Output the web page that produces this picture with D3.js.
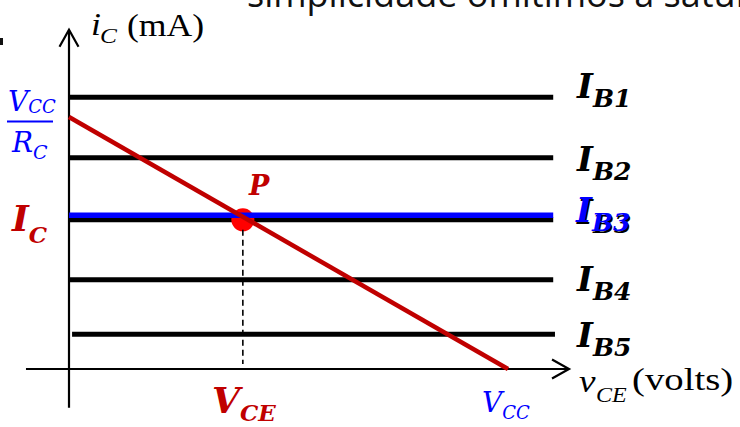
<!DOCTYPE html>
<html>
<head>
<meta charset="utf-8">
<script src="https://cdn.jsdelivr.net/npm/d3@7"></script>
<style>
  html, body { margin: 0; padding: 0; background: #fff; }
  svg { display: block; }
</style>
</head>
<body>
<script>
// ---------------- data ----------------
const ibNames   = ["B1", "B2", "B3", "B4", "B5"];          // base-current curves
const ibValues  = [5.39, 4.19, 2.96, 1.77, 0.69];          // collector current (mA) of each flat curve
const ibStart   = [0, 0, 0, 0, 0.07];                      // v_CE where each curve starts (V)
const ibEnd     = [11.03, 11.03, 11.03, 11.03, 11.07];     // v_CE where each curve ends (V)
const vcc       = 10;                                      // V_CC (V) – load line x-intercept
const iSat      = 5;                                       // V_CC / R_C (mA) – load line y-intercept
const loadLine  = [[0, iSat], [vcc, 0]];
const icValue   = 3.05;                                    // highlighted I_C level
const qPoint    = { vce: 3.96, ic: 2.96 };                 // operating point P
const xAxisExt  = [-0.98, 11.39];
const yAxisExt  = [-0.77, 6.73];

// ---------------- layout ----------------
const W = 740, H = 427;
const svg = d3.select("body").append("svg").attr("width", W).attr("height", H);

const x = d3.scaleLinear().domain([0, vcc]).range([69, 508]);
const y = d3.scaleLinear().domain([0, iSat]).range([369, 117]);

const serif = "'Liberation Serif', 'Times New Roman', serif";
const mathF = "'DejaVu Serif', 'Liberation Serif', serif";
const DARKRED = "#c00000", BLUE = "#0000ff";

// top (cropped) slide text and bullet remnant
svg.append("text").attr("x", 247).attr("y", 7)
  .attr("font-family", "Open Sans, sans-serif").attr("font-size", 36)
  .attr("fill", "#111").text("simplicidade omitimos a saturação");
svg.append("rect").attr("x", 0).attr("y", 38).attr("width", 3).attr("height", 7).attr("fill", "#111");

// axes
const axisG = svg.append("g").attr("stroke", "#000").attr("fill", "none").attr("stroke-width", 2.2);
axisG.append("line").attr("x1", x(xAxisExt[0])).attr("x2", x(xAxisExt[1]))
  .attr("y1", y(0)).attr("y2", y(0));
axisG.append("line").attr("x1", x(0)).attr("x2", x(0))
  .attr("y1", y(yAxisExt[0])).attr("y2", y(yAxisExt[1]));
const xt = x(xAxisExt[1]), yt = y(yAxisExt[1]);
axisG.append("path").attr("d", `M${xt - 17},${y(0) - 9.5}L${xt},${y(0)}L${xt - 17},${y(0) + 9.5}`);
axisG.append("path").attr("d", `M${x(0) - 9.5},${yt + 17}L${x(0)},${yt}L${x(0) + 9.5},${yt + 17}`);

// base-current curves
svg.append("g").selectAll("line").data(ibValues).join("line")
  .attr("x1", (d, i) => x(ibStart[i])).attr("x2", (d, i) => x(ibEnd[i]))
  .attr("y1", d => y(d)).attr("y2", d => y(d))
  .attr("stroke", "#000").attr("stroke-width", 5);

// operating point circle (under blue & load line)
svg.append("circle").attr("cx", x(qPoint.vce)).attr("cy", y(qPoint.ic)).attr("r", 11.5).attr("fill", "#ff0000");

// highlighted I_C line
svg.append("line").attr("x1", x(0)).attr("x2", x(ibEnd[2]))
  .attr("y1", y(icValue)).attr("y2", y(icValue))
  .attr("stroke", BLUE).attr("stroke-width", 5.5);

// dashed projection
svg.append("line").attr("x1", x(qPoint.vce)).attr("x2", x(qPoint.vce))
  .attr("y1", y(qPoint.ic) + 10).attr("y2", y(0) - 5)
  .attr("stroke", "#000").attr("stroke-width", 1.6).attr("stroke-dasharray", "6,4");

// load line
svg.append("path").datum(loadLine)
  .attr("d", d3.line().x(d => x(d[0])).y(d => y(d[1])))
  .attr("stroke", DARKRED).attr("stroke-width", 4.5).attr("fill", "none");

// ---------------- labels ----------------
// single text run; sx = horizontal stretch
function txt(px, py, s, o) {
  return svg.append("text")
    .attr("transform", `translate(${px},${py}) scale(${o.sx || 1},1)`)
    .attr("font-family", o.family || mathF)
    .attr("font-style", o.style || "italic").attr("font-weight", o.weight || "normal")
    .attr("font-size", o.size).attr("fill", o.color || "#000").text(s);
}
function mathLabel(px, py, main, sub, o) {
  const t = svg.append("text").attr("x", px).attr("y", py)
    .attr("font-family", o.family || mathF)
    .attr("font-style", "italic").attr("font-weight", o.weight || "normal")
    .attr("fill", o.color || "#000");
  t.append("tspan").attr("font-size", o.size).text(main);
  if (sub) t.append("tspan").attr("font-size", o.subSize).attr("dx", o.subDx || 0)
    .attr("dy", o.subDy).text(sub);
  return t;
}

// IB labels
const ibBase = [98, 171, 224, 291, 347];
ibNames.forEach((n, i) => {
  mathLabel(577, ibBase[i], "I", n, { size: 34, subSize: 25, subDy: 9, weight: "bold" });
});
mathLabel(576, ibBase[2] - 2, "I", ibNames[2], { size: 34, subSize: 25, subDy: 9, weight: "bold", color: BLUE });

// axis titles (Times-like, stretched)
txt(91, 35, "i", { family: serif, size: 31, sx: 1.15 });
txt(100, 43, "C", { family: serif, size: 22, sx: 1.15 });
txt(127, 36, "(mA)", { family: serif, style: "normal", size: 31, sx: 1.15 });

txt(579, 392, "v", { family: serif, size: 31, sx: 1.2 });
txt(596, 402, "CE", { family: serif, size: 20, sx: 1.2 });
txt(632, 390, "(volts)", { family: serif, style: "normal", size: 31, sx: 1.25 });

// V_CC / R_C fraction
mathLabel(8, 111, "V", "CC", { size: 28, subSize: 18, subDy: 2, color: BLUE });
svg.append("line").attr("x1", 7).attr("x2", 53).attr("y1", y(iSat) + 4.5).attr("y2", y(iSat) + 4.5)
  .attr("stroke", BLUE).attr("stroke-width", 2.2);
mathLabel(12, 152, "R", "C", { size: 28, subSize: 19, subDy: 7, color: BLUE });

// I_C, P, V_CE, V_CC
mathLabel(12, 231, "I", "C", { size: 36, subSize: 23, subDy: 12, weight: "bold", color: DARKRED });
mathLabel(249, 195, "P", null, { size: 27, weight: "bold", color: DARKRED });
mathLabel(212, 413, "V", "CE", { size: 36, subSize: 23, subDy: 8, weight: "bold", color: DARKRED });
mathLabel(482, 412, "V", "CC", { size: 28, subSize: 18, subDy: 7, color: BLUE });
</script>
</body>
</html>
